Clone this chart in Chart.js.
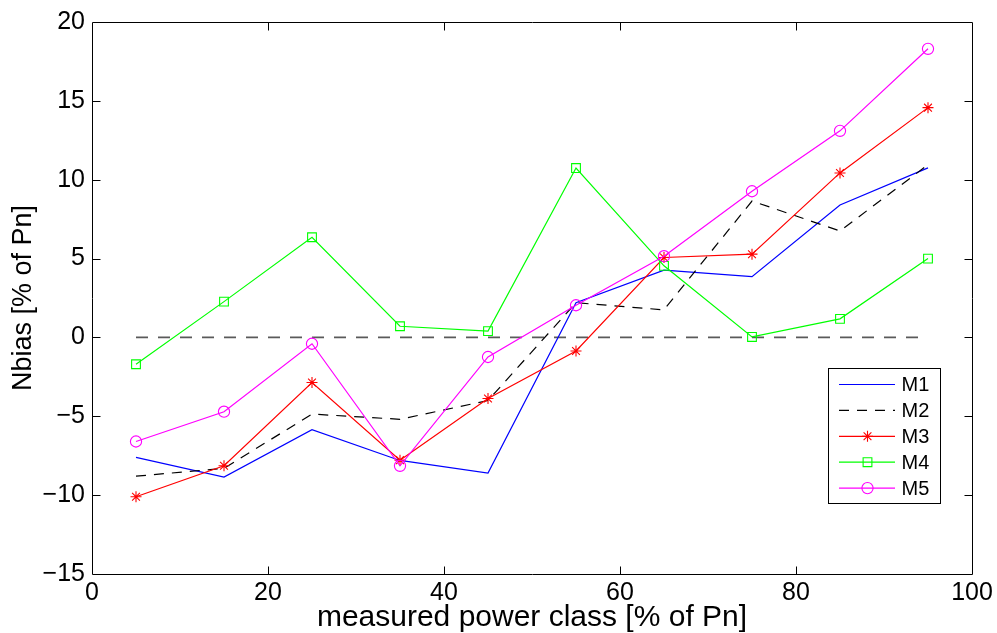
<!DOCTYPE html>
<html>
<head>
<meta charset="utf-8">
<title>Nbias by measured power class</title>
<script src="https://cdn.jsdelivr.net/npm/chart.js@4/dist/chart.umd.min.js"></script>
<style>
  html, body { margin: 0; padding: 0; background: #fff; }
  #wrap { width: 997px; height: 633px; }
</style>
</head>
<body>
<div id="wrap"><canvas id="c" width="997" height="633"></canvas></div>
<script>
// Power classes (centre of each 10 % bin) and normalised bias per model
const powerClass = [5, 15, 25, 35, 45, 55, 65, 75, 85, 95];
const m1 = [-7.6, -8.85, -5.85, -7.8, -8.6, 2.2, 4.27, 3.85, 8.4, 10.75];
const m2 = [-8.8, -8.3, -4.86, -5.19, -4.0, 2.2, 1.75, 8.65, 6.75, 10.95];
const m3 = [-10.1, -8.14, -2.86, -7.78, -3.87, -0.86, 5.07, 5.28, 10.43, 14.57];
const m4 = [-1.7, 2.27, 6.35, 0.71, 0.4, 10.74, 4.54, 0.03, 1.18, 5.0];
const m5 = [-6.6, -4.71, -0.4, -8.14, -1.24, 2.04, 5.15, 9.27, 13.1, 18.3];

// Zero reference line
const refX = [5, 95];
const refY = [0, 0];

const xTicks = [0, 20, 40, 60, 80, 100];
const yTicks = [-15, -10, -5, 0, 5, 10, 15, 20];

const FONT = "'Liberation Sans', Arial, Helvetica, sans-serif";

function pts(xs, ys) { return xs.map((x, i) => ({ x: x, y: ys[i] })); }

const series = [
  { label: 'M1', data: m1, color: '#0000ff', dash: [], style: false },
  { label: 'M2', data: m2, color: '#000000', dash: [10, 8], style: false },
  { label: 'M3', data: m3, color: '#ff0000', dash: [], style: 'star', r: 5.5 },
  { label: 'M4', data: m4, color: '#00ff00', dash: [], style: 'rect', r: 6.2 },
  { label: 'M5', data: m5, color: '#ff00ff', dash: [], style: 'circle', r: 5.6 }
];

const datasets = [{
  label: 'zero',
  data: pts(refX, refY),
  borderColor: '#5a5a5a',
  borderWidth: 1.8,
  borderDash: [12, 10],
  pointRadius: 0,
  fill: false,
  order: 10,
  inLegend: false
}].concat(series.map((s, i) => ({
  label: s.label,
  data: pts(powerClass, s.data),
  borderColor: s.color,
  backgroundColor: 'rgba(0,0,0,0)',
  borderWidth: 1.2,
  borderDash: s.dash,
  pointStyle: s.style || 'circle',
  pointRadius: s.style ? s.r : 0,
  pointBorderWidth: 1.1,
  pointBorderColor: s.color,
  pointBackgroundColor: 'rgba(0,0,0,0)',
  fill: false,
  tension: 0,
  order: 5 - i,
  inLegend: true
})));

// Box frame with inward tick marks on all four sides
const framePlugin = {
  id: 'frame',
  afterDatasetsDraw(chart) {
    const ctx = chart.ctx;
    const a = chart.chartArea;
    const xs = chart.scales.x, ys = chart.scales.y;
    const L = Math.round(a.left) + 0.5, R = Math.round(a.right) + 0.5;
    const T = Math.round(a.top) + 0.5, B = Math.round(a.bottom) + 0.5;
    ctx.save();
    ctx.strokeStyle = '#000';
    ctx.lineWidth = 1;
    ctx.setLineDash([]);
    ctx.beginPath();
    ctx.rect(L, T, R - L, B - T);
    const len = 8;
    xs.ticks.forEach(t => {
      if (t.value <= xs.min || t.value >= xs.max) return;
      const px = Math.round(xs.getPixelForValue(t.value)) + 0.5;
      ctx.moveTo(px, B); ctx.lineTo(px, B - len);
      ctx.moveTo(px, T); ctx.lineTo(px, T + len);
    });
    ys.ticks.forEach(t => {
      if (t.value <= ys.min || t.value >= ys.max) return;
      const py = Math.round(ys.getPixelForValue(t.value)) + 0.5;
      ctx.moveTo(L, py); ctx.lineTo(L + len, py);
      ctx.moveTo(R, py); ctx.lineTo(R - len, py);
    });
    ctx.stroke();
    ctx.restore();
  }
};

// Boxed legend inside the plot, lower right
const legendPlugin = {
  id: 'boxLegend',
  afterDraw(chart) {
    const ctx = chart.ctx;
    const items = chart.data.datasets.filter(d => d.inLegend);
    const box = { x: 828.5, y: 368.5, w: 112, h: 135 };
    const rowH = 25.9, firstY = 384.5;
    ctx.save();
    ctx.fillStyle = '#fff';
    ctx.fillRect(box.x, box.y, box.w, box.h);
    ctx.strokeStyle = '#000';
    ctx.lineWidth = 1;
    ctx.setLineDash([]);
    ctx.strokeRect(box.x, box.y, box.w, box.h);
    items.forEach((d, i) => {
      const y = firstY + i * rowH;
      ctx.save();
      ctx.strokeStyle = d.borderColor;
      ctx.lineWidth = 1.2;
      ctx.setLineDash(d.borderDash || []);
      ctx.beginPath();
      ctx.moveTo(839, y);
      ctx.lineTo(895, y);
      ctx.stroke();
      ctx.restore();
      if (d.pointRadius > 0) {
        ctx.save();
        ctx.strokeStyle = d.pointBorderColor;
        ctx.fillStyle = 'rgba(0,0,0,0)';
        ctx.lineWidth = d.pointBorderWidth;
        ctx.setLineDash([]);
        Chart.helpers.drawPoint(ctx, { pointStyle: d.pointStyle, radius: d.pointRadius, rotation: 0, borderWidth: d.pointBorderWidth }, 867.5, y);
        ctx.restore();
      }
      ctx.fillStyle = '#000';
      ctx.font = '20px ' + FONT;
      ctx.textAlign = 'left';
      ctx.textBaseline = 'middle';
      ctx.fillText(d.label, 901.5, y + 1);
    });
    ctx.restore();
  }
};

new Chart(document.getElementById('c'), {
  type: 'line',
  data: { datasets: datasets },
  options: {
    responsive: false,
    animation: false,
    devicePixelRatio: 1,
    layout: { padding: { left: 0, top: 20, right: 25, bottom: 0 } },
    plugins: {
      legend: { display: false },
      tooltip: { enabled: false }
    },
    scales: {
      x: {
        type: 'linear',
        min: 0, max: 100,
        afterFit(s) { s.height = 59; },
        afterBuildTicks(s) { s.ticks = xTicks.map(v => ({ value: v })); },
        grid: { display: false, drawTicks: false },
        border: { display: false },
        ticks: {
          padding: 4,
          maxRotation: 0,
          color: '#000',
          font: { family: FONT, size: 25 }
        },
        title: {
          display: true,
          text: 'measured power class [% of Pn]',
          color: '#000',
          font: { family: FONT, size: 30, lineHeight: 1 },
          padding: { top: 0, bottom: 0 }
        }
      },
      y: {
        type: 'linear',
        min: -15, max: 20,
        afterFit(s) { s.width = 92; },
        afterBuildTicks(s) { s.ticks = yTicks.map(v => ({ value: v })); },
        grid: { display: false, drawTicks: false },
        border: { display: false },
        ticks: {
          padding: 7,
          color: '#000',
          font: { family: FONT, size: 25 },
          callback: v => String(v).replace('-', '\u2212')
        },
        title: {
          display: true,
          text: 'Nbias [% of Pn]',
          color: '#000',
          font: { family: FONT, size: 27, lineHeight: 1 },
          padding: { top: 10, bottom: 0 }
        }
      }
    }
  },
  plugins: [framePlugin, legendPlugin]
});
</script>
</body>
</html>
